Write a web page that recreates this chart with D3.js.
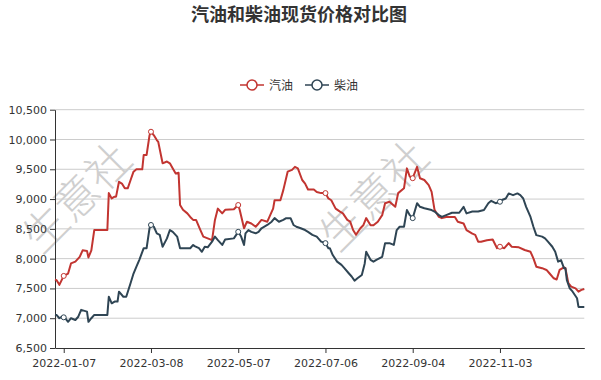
<!DOCTYPE html>
<html>
<head>
<meta charset="utf-8">
<script src="https://cdn.jsdelivr.net/npm/d3@7"></script>
<style>
  body { margin: 0; background: #fff; }
  svg { display: block; }
</style>
</head>
<body>
<svg width="601" height="380"></svg>
<script>
// 汽油 (gasoline) and 柴油 (diesel) spot prices, 2022
const gasDates = ['01-01','01-02','01-04','01-07','01-10','01-12','01-15','01-18','01-20','01-23','01-24','01-26','01-28',
  '02-06','02-07','02-09','02-11','02-12','02-14','02-16','02-18','02-20','02-22','02-24','02-26',
  '03-02','03-03','03-05','03-07','03-08','03-10','03-12','03-13','03-16','03-19','03-21','03-23','03-25','03-27','03-28','03-30',
  '04-02','04-04','04-06','04-08','04-11','04-13','04-16','04-19','04-21','04-23','04-26','04-28',
  '05-04','05-07','05-08','05-11','05-13','05-16','05-19','05-21','05-23','05-27','05-29','05-31',
  '06-01','06-05','06-07','06-10','06-13','06-15','06-17','06-20','06-22','06-24','06-28','06-30',
  '07-03','07-06','07-08','07-10','07-13','07-16','07-18','07-21','07-23','07-25','07-27','07-30',
  '08-01','08-03','08-06','08-08','08-11','08-14','08-16','08-19','08-23','08-25','08-29','08-31',
  '09-02','09-04','09-07','09-09','09-12','09-15','09-17','09-19','09-22','09-24','09-27',
  '10-03','10-05','10-09','10-11','10-15','10-17','10-19','10-21','10-25','10-29',
  '11-01','11-03','11-06','11-09','11-11','11-16','11-20','11-24','11-26','11-28',
  '12-02','12-05','12-07','12-10','12-12','12-14','12-17','12-18','12-20','12-22','12-25','12-27','12-29','12-31'];
const gasValues = [7650,7640,7560,7710,7750,7920,7950,8030,8140,8130,8020,8140,8480,
  8480,9100,9010,9040,9040,9290,9260,9180,9180,9320,9460,9500,
  9500,9740,9740,10070,10130,10070,9990,9960,9600,9630,9600,9515,9430,9440,8900,8820,
  8760,8700,8650,8650,8480,8370,8340,8310,8650,8840,8760,8820,
  8830,8900,8820,8510,8620,8590,8535,8590,8650,8620,8730,8840,
  8980,8980,9150,9460,9490,9540,9515,9320,9260,9160,9160,9120,
  9100,9100,9010,8980,8840,8790,8760,8650,8620,8480,8400,8510,
  8560,8680,8560,8560,8620,8730,8930,8955,8870,9100,9180,9515,
  9375,9350,9540,9350,9320,9235,9120,8820,8700,8680,8700,
  8700,8620,8590,8480,8420,8400,8285,8285,8310,8320,
  8175,8200,8175,8260,8200,8190,8145,8115,8005,7865,
  7840,7810,7755,7670,7650,7810,7855,7840,7590,7530,7500,7445,7475,7490];

const dieselDates = ['01-01','01-02','01-04','01-06','01-07','01-08','01-10','01-12','01-15','01-17','01-19','01-23','01-24','01-26','01-28',
  '02-06','02-07','02-09','02-11','02-13','02-14','02-17','02-19','02-22','02-24','02-26','02-28',
  '03-03','03-05','03-07','03-08','03-10','03-12','03-14','03-16','03-19','03-21','03-23','03-26','03-28',
  '04-04','04-06','04-07','04-10','04-12','04-14','04-16','04-19','04-21','04-23','04-26','04-28',
  '05-04','05-07','05-09','05-11','05-12','05-14','05-16','05-19','05-21','05-23','05-27','05-30',
  '06-01','06-04','06-07','06-09','06-12','06-14','06-16','06-19','06-22','06-24','06-27','06-30',
  '07-03','07-06','07-08','07-09','07-11','07-14','07-17','07-19','07-22','07-24','07-26','07-28','07-31',
  '08-02','08-03','08-06','08-08','08-10','08-14','08-16','08-19','08-22','08-24','08-26','08-29','08-31',
  '09-02','09-04','09-07','09-09','09-12','09-17','09-19','09-22','09-24','09-27',
  '10-01','10-06','10-09','10-11','10-15','10-19','10-23','10-26','10-28','10-31',
  '11-03','11-04','11-07','11-09','11-12','11-15','11-17','11-19','11-21','11-24','11-26','11-28',
  '12-02','12-04','12-06','12-09','12-11','12-13','12-15','12-17','12-18','12-19','12-21','12-23','12-26','12-27','12-31'];
const dieselValues = [7060,7055,7000,7025,7015,7000,6940,7000,6970,7025,7140,7110,6940,7000,7055,
  7055,7360,7250,7280,7280,7445,7360,7360,7590,7750,7865,7980,
  8175,8175,8510,8565,8535,8425,8400,8200,8340,8480,8450,8370,8175,
  8175,8230,8210,8175,8115,8200,8190,8285,8370,8310,8230,8320,
  8340,8450,8370,8230,8425,8480,8450,8425,8450,8510,8565,8620,
  8680,8620,8650,8680,8680,8565,8535,8510,8480,8450,8400,8370,
  8285,8260,8175,8175,8060,7950,7895,7840,7755,7700,7630,7670,7725,
  7920,8115,7980,7950,7980,8030,8260,8260,8230,8480,8535,8535,8815,
  8730,8680,8930,8870,8845,8815,8790,8730,8700,8730,
  8770,8770,8870,8760,8790,8790,8815,8930,8970,8930,
  8955,8980,9010,9095,9065,9095,9065,9010,8870,8700,8535,8395,
  8370,8340,8285,8200,8115,7950,7975,7840,7840,7640,7500,7445,7335,7190,7190];

const tickDates = ['2022-01-07','2022-03-08','2022-05-07','2022-07-06','2022-09-04','2022-11-03'];
const yTicks = [6500,7000,7500,8000,8500,9000,9500,10000,10500];
const seriesNames = ['汽油','柴油'];
const colors = ['#c23531','#2f4554'];

const parse = d3.timeParse('%Y-%m-%d');
const fmt = d3.timeFormat('%Y-%m-%d');
const series = [
  gasDates.map((d, i) => ({ date: parse('2022-' + d), value: gasValues[i] })),
  dieselDates.map((d, i) => ({ date: parse('2022-' + d), value: dieselValues[i] }))
];

const svg = d3.select('svg');
const gLeft = 55, gRight = 584.3, gTop = 109.7, gBottom = 348;

const x = d3.scaleTime()
  .domain([parse('2022-01-01'), parse('2022-12-31')])
  .range([gLeft, gRight]);
const y = d3.scaleLinear()
  .domain([6500, 10500])
  .range([gBottom, gTop]);

// title
svg.append('text')
  .attr('x', 299).attr('y', 21)
  .attr('text-anchor', 'middle')
  .style('font-family', '"Noto Sans CJK SC", sans-serif')
  .style('font-size', '18px')
  .style('font-weight', 'bold')
  .style('fill', '#333')
  .text('汽油和柴油现货价格对比图');

// legend, centred under the title
const legendX = [240, 305];
seriesNames.forEach((name, i) => {
  const lg = svg.append('g').attr('transform', `translate(${legendX[i]},85)`);
  lg.append('line').attr('x1', 0).attr('x2', 24).attr('y1', 0).attr('y2', 0)
    .attr('stroke', colors[i]).attr('stroke-width', 1.5);
  lg.append('circle').attr('cx', 12).attr('cy', 0).attr('r', 5)
    .attr('fill', '#fff').attr('stroke', colors[i]).attr('stroke-width', 1.5);
  lg.append('text').attr('x', 29).attr('y', 4.5)
    .style('font-family', '"Noto Sans CJK SC", sans-serif')
    .style('font-size', '12px')
    .style('fill', '#333')
    .text(name);
});

// grid lines
svg.append('g')
  .selectAll('line')
  .data(yTicks.slice(1))
  .enter()
  .append('line')
  .attr('x1', gLeft).attr('x2', gRight)
  .attr('y1', d => y(d)).attr('y2', d => y(d))
  .attr('stroke', '#ccc').attr('stroke-width', 1);

// watermark
const marks = [[77, 198], [374, 196]];
marks.forEach(m => {
  svg.append('text')
    .attr('transform', `translate(${m[0]},${m[1]}) rotate(-45)`)
    .attr('text-anchor', 'middle')
    .attr('dy', '0.35em')
    .style('font-family', '"Noto Sans CJK SC", sans-serif')
    .style('font-size', '44px')
    .style('font-weight', 300)
    .style('fill', '#cfcfcf')
    .text('生意社');
});

// axes
const xAxis = svg.append('g')
  .attr('transform', `translate(0,${gBottom})`)
  .call(d3.axisBottom(x)
    .tickValues(tickDates.map(parse))
    .tickFormat(fmt)
    .tickSize(5)
    .tickSizeOuter(0));
const yAxis = svg.append('g')
  .attr('transform', `translate(${gLeft},0)`)
  .call(d3.axisLeft(y)
    .tickValues(yTicks)
    .tickFormat(d3.format(','))
    .tickSize(5)
    .tickSizeOuter(0));

[xAxis, yAxis].forEach(a => {
  a.select('.domain').attr('stroke', '#333').attr('stroke-width', 1);
  a.selectAll('.tick line').attr('stroke', '#333');
  a.selectAll('.tick text')
    .style('font-family', '"DejaVu Sans", sans-serif')
    .style('font-size', '11px')
    .style('fill', '#333');
});
xAxis.selectAll('.tick text').attr('y', 11);
yAxis.selectAll('.tick text').attr('x', -8);

// lines
const line = d3.line()
  .x(d => x(d.date))
  .y(d => y(d.value));

series.forEach((s, i) => {
  svg.append('path')
    .datum(s)
    .attr('fill', 'none')
    .attr('stroke', colors[i])
    .attr('stroke-width', 2)
    .attr('stroke-linejoin', 'round')
    .attr('d', line);
});

// symbols shown at the labelled dates
series.forEach((s, i) => {
  const pts = s.filter(d => tickDates.includes(fmt(d.date)));
  svg.append('g')
    .selectAll('circle')
    .data(pts)
    .enter()
    .append('circle')
    .attr('cx', d => x(d.date))
    .attr('cy', d => y(d.value))
    .attr('r', 2.5)
    .attr('fill', '#fff')
    .attr('stroke', colors[i])
    .attr('stroke-width', 1);
});
</script>
</body>
</html>
